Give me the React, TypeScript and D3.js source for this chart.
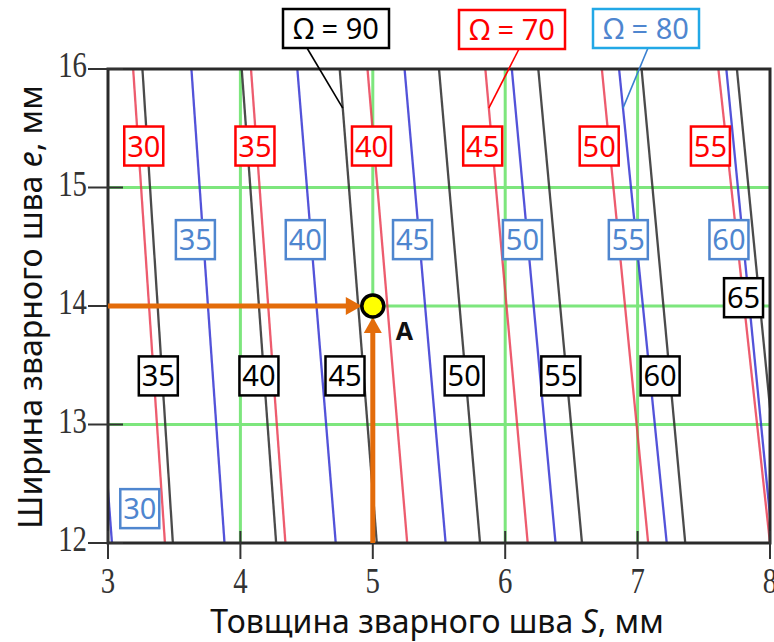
import * as d3 from 'd3';

const W = 774;
const H = 642;
const margin = { top: 69, right: 4, bottom: 99, left: 108 };

// weld thickness S (mm) of each curve where it meets e = 16 and e = 12
const E_TOP = 16;
const E_BOTTOM = 12;

// Ω = 70 (red)
const redValues = [30, 35, 40, 45, 50, 55];
const redSTop = [3.19, 4.08, 4.96, 5.85, 6.73, 7.61];
const redSBottom = [3.43, 4.34, 5.26, 6.17, 7.08, 8.0];

// Ω = 80 (blue)
const blueValues = [30, 35, 40, 45, 50, 55, 60];
const blueSTop = [2.76, 3.63, 4.43, 5.24, 6.05, 6.86, 7.67];
const blueSBottom = [3.03, 3.88, 4.72, 5.55, 6.38, 7.22, 8.02];

// Ω = 90 (black)
const blackValues = [35, 40, 45, 50, 55, 60, 65];
const blackSTop = [3.26, 4.01, 4.75, 5.5, 6.25, 7.03, 7.75];
const blackSBottom = [3.49, 4.27, 5.03, 5.81, 6.58, 7.36, 8.1];

// where the value tags sit (S, e)
const redTagS = [3.27, 4.11, 4.99, 5.83, 6.71, 7.55];
const redTagE = [15.35, 15.35, 15.35, 15.35, 15.35, 15.35];
const blueTagS = [3.24, 3.66, 4.49, 5.3, 6.13, 6.93, 7.69];
const blueTagE = [12.29, 14.56, 14.56, 14.56, 14.56, 14.56, 14.56];
const blackTagS = [3.38, 4.14, 4.79, 5.69, 6.42, 7.17, 7.8];
const blackTagE = [13.41, 13.41, 13.41, 13.41, 13.41, 13.41, 14.07];

const gridS = [4, 5, 6, 7];
const gridE = [13, 14, 15];

// point A
const pointS = 5;
const pointE = 14;

const RED = '#e8334a';
const BLUE = '#3535d2';
const BLACK = '#2b2b2b';
const TAG_BLUE = '#4f86cf';
const ORANGE = '#e36c0a';
const GREEN = '#6fe46f';
const SANS = '"Noto Sans", "Open Sans", sans-serif';
const SERIF = '"Liberation Serif", "DejaVu Serif", serif';

export default function App() {
  const x = d3.scaleLinear().domain([3, 8]).range([margin.left, W - margin.right]);
  const y = d3.scaleLinear().domain([12, 16]).range([H - margin.bottom, margin.top]);

  const line = d3.line<[number, number]>()
    .x(d => x(d[0]))
    .y(d => y(d[1]));

  const family = (tops: number[], bottoms: number[]) =>
    tops.map((t, i) => line([[t, E_TOP], [bottoms[i], E_BOTTOM]]) as string);

  // point on a curve at a given e
  const sAt = (top: number, bottom: number, e: number) =>
    top + (bottom - top) * (E_TOP - e) / (E_TOP - E_BOTTOM);

  const [x0, x1] = x.range();
  const [y0, y1] = y.range(); // y0 bottom, y1 top

  const tag = (key: string, cx: number, cy: number, label: string, color: string, stroke: string) => (
    <g key={key}>
      <rect x={cx - 19.5} y={cy - 19.5} width={39} height={39} fill="#fff" stroke={stroke} strokeWidth={2.5} />
      <text x={cx} y={cy + 10.5} textAnchor="middle" fontFamily={SANS} fontSize={29} fill={color}>{label}</text>
    </g>
  );

  const callout = (key: string, bx: number, by: number, label: string, color: string, stroke: string,
                   lx1: number, ly1: number, lx2: number, ly2: number, lineColor: string) => (
    <g key={key}>
      <line x1={lx1} y1={ly1} x2={lx2} y2={ly2} stroke={lineColor} strokeWidth={1.6} />
      <rect x={bx} y={by} width={106} height={39} fill="#fff" stroke={stroke} strokeWidth={2.5} />
      <text x={bx + 53} y={by + 30} textAnchor="middle" fontFamily={SANS} fontSize={29} fill={color}>{label}</text>
    </g>
  );

  const px = x(pointS);
  const py = y(pointE);
  const r = 11;

  const eLeader = 15.67;
  const lead90 = [x(sAt(blackSTop[2], blackSBottom[2], eLeader)), y(eLeader)];
  const lead70 = [x(sAt(redSTop[3], redSBottom[3], eLeader)), y(eLeader)];
  const lead80 = [x(sAt(blueSTop[5], blueSBottom[5], eLeader)), y(eLeader)];

  return (
    <svg width={W} height={H} style={{ position: 'absolute', left: 0, top: 0, background: '#fff' }}>
      <defs>
        <clipPath id="plot">
          <rect x={x0} y={y1} width={x1 - x0} height={y0 - y1} />
        </clipPath>
      </defs>

      {/* green grid */}
      <g stroke={GREEN} strokeWidth={3} opacity={0.9}>
        {gridE.map(e => <line key={'ge' + e} x1={x0} x2={x1} y1={y(e)} y2={y(e)} />)}
        {gridS.map(s => <line key={'gs' + s} x1={x(s)} x2={x(s)} y1={y1} y2={y0} />)}
      </g>

      {/* curves */}
      <g clipPath="url(#plot)" fill="none" strokeWidth={2.3}>
        {family(redSTop, redSBottom).map((d, i) => <path key={'r' + i} d={d} stroke={RED} opacity={0.8} />)}
        {family(blueSTop, blueSBottom).map((d, i) => <path key={'b' + i} d={d} stroke={BLUE} opacity={0.85} />)}
        {family(blackSTop, blackSBottom).map((d, i) => <path key={'k' + i} d={d} stroke={BLACK} opacity={0.85} />)}
      </g>

      {/* frame and ticks */}
      <rect x={x0} y={y1} width={x1 - x0} height={y0 - y1} fill="none" stroke="#2a2a2a" strokeWidth={3} />
      <g stroke="#333" strokeWidth={2}>
        {y.ticks(4).map(t => <line key={'yt' + t} x1={x0 - 20} x2={x0 + 15} y1={y(t)} y2={y(t)} />)}
        {x.ticks(5).map(t => <line key={'xt' + t} x1={x(t)} x2={x(t)} y1={y0 - 12} y2={y0 + 16} />)}
      </g>
      <g fontFamily={SERIF} fontSize={36} fill="#333">
        {y.ticks(4).map(t => (
          <text key={'yl' + t} textAnchor="end" transform={`translate(${x0 - 21},${y(t) + 8}) scale(0.8,1)`}>{t}</text>
        ))}
        {x.ticks(5).map(t => (
          <text key={'xl' + t} textAnchor="middle" transform={`translate(${x(t)},${y0 + 50}) scale(0.8,1)`}>{t}</text>
        ))}
      </g>

      {/* axis titles */}
      <text x={437} y={633} textAnchor="middle" fontFamily={SANS} fontSize={32} fill="#111">
        Товщина зварного шва <tspan fontStyle="italic">S</tspan>, мм
      </text>
      <text transform="translate(42,307) rotate(-90)" textAnchor="middle" fontFamily={SANS} fontSize={32} fill="#111">
        Ширина зварного шва <tspan fontStyle="italic">e</tspan>, мм
      </text>

      {/* orange construction arrows */}
      <g fill={ORANGE} stroke={ORANGE}>
        <line x1={x0} x2={px - r - 14} y1={py} y2={py} strokeWidth={5} />
        <polygon points={`${px - r},${py} ${px - r - 16},${py - 9} ${px - r - 16},${py + 9}`} stroke="none" />
        <line x1={px} x2={px} y1={y0} y2={py + r + 14} strokeWidth={5} />
        <polygon points={`${px},${py + r} ${px - 9},${py + r + 16} ${px + 9},${py + r + 16}`} stroke="none" />
      </g>
      <circle cx={px} cy={py} r={r} fill="#ffff00" stroke="#000" strokeWidth={3.5} />
      <text x={px + 23} y={py + 34} fontFamily={SANS} fontWeight="bold" fontSize={25} fill="#111">A</text>

      {/* value tags */}
      {redValues.map((v, i) => tag('rt' + i, x(redTagS[i]), y(redTagE[i]), String(v), '#ff0000', '#ff0000'))}
      {blueValues.map((v, i) => tag('bt' + i, x(blueTagS[i]), y(blueTagE[i]), String(v), TAG_BLUE, TAG_BLUE))}
      {blackValues.map((v, i) => tag('kt' + i, x(blackTagS[i]), y(blackTagE[i]), String(v), '#000', '#000'))}

      {/* Ω callouts */}
      {callout('c90', 283, 9, 'Ω = 90', '#000', '#000', 307, 48, lead90[0], lead90[1], '#000')}
      {callout('c70', 459, 10, 'Ω = 70', '#ff0000', '#ff0000', 519, 49, lead70[0], lead70[1], '#ff0000')}
      {callout('c80', 593, 9, 'Ω = 80', TAG_BLUE, '#22a8e6', 648, 48, lead80[0], lead80[1], '#3a7fd0')}
    </svg>
  );
}
